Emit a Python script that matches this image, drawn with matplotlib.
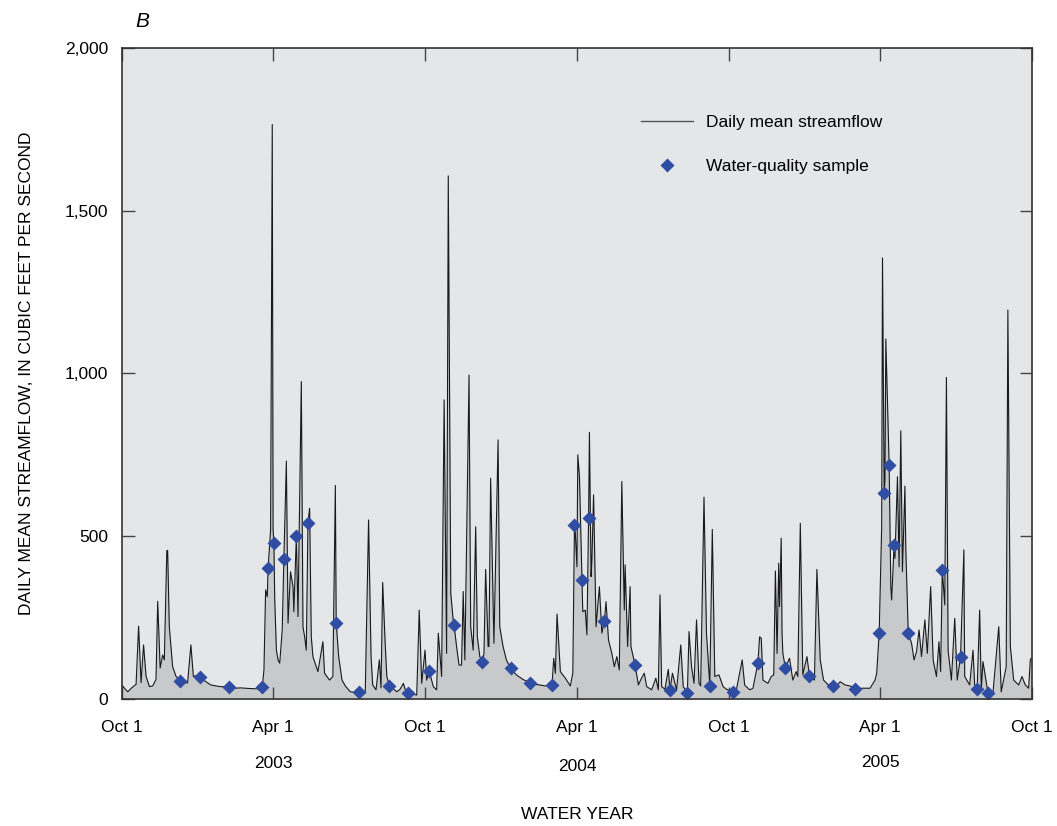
import numpy as np
import matplotlib
matplotlib.use("Agg")
from matplotlib import pyplot as plt
from matplotlib.lines import Line2D
from matplotlib import font_manager

# Condensed font if available
names = {f.name for f in font_manager.fontManager.ttflist}
if "Liberation Sans Narrow" in names:
    plt.rcParams["font.family"] = ["Liberation Sans Narrow", "DejaVu Sans"]
else:
    plt.rcParams["font.family"] = ["Liberation Sans", "DejaVu Sans"]

# Datos: dias desde 1 oct 2002 y caudal medio diario (pies3/s)
flow_days = [
    0, 4, 7, 12, 17, 20, 23, 26, 29, 33,
    37, 41, 43, 46, 49, 51, 54, 55, 57, 61,
    65, 70, 75, 79, 83, 86, 90, 94, 100, 107,
    118, 129, 136, 143, 154, 164, 169, 171, 173, 175,
    176, 179, 181, 182, 183, 184, 186, 188, 190, 193,
    195, 198, 200, 203, 206, 207, 210, 212, 216, 218,
    220, 222, 224, 226, 228, 230, 234, 236, 242, 244,
    250, 254, 257, 258, 261, 265, 269, 275, 281, 285,
    293, 297, 300, 302, 306, 310, 312, 314, 317, 319,
    322, 325, 331, 335, 339, 341, 344, 349, 355, 358,
    361, 365, 367, 370, 375, 379, 381, 385, 388, 391,
    393, 396, 399, 400, 403, 406, 409, 411, 413, 418,
    420, 423, 426, 428, 431, 434, 436, 438, 441, 442,
    444, 448, 453, 455, 459, 463, 468, 475, 483, 491,
    497, 503, 510, 518, 520, 522, 524, 528, 534, 540,
    543, 545, 546, 548, 549, 551, 554, 555, 558, 560,
    562, 563, 565, 566, 568, 571, 575, 578, 581, 583,
    586, 590, 593, 596, 599, 602, 605, 606, 609, 612,
    613, 618, 622, 625, 629, 632, 638, 643, 646, 648,
    650, 654, 658, 660, 663, 668, 673, 676, 681, 683,
    686, 689, 692, 695, 697, 701, 704, 708, 711, 714,
    719, 724, 728, 736, 740, 747, 750, 756, 760, 766,
    768, 770, 772, 778, 782, 785, 787, 789, 791, 792,
    794, 795, 796, 799, 804, 808, 812, 814, 817, 820,
    825, 828, 834, 837, 841, 845, 850, 856, 860, 865,
    871, 877, 883, 893, 901, 907, 909, 912, 915, 916,
    918, 919, 920, 924, 926, 927, 930, 931, 934, 936,
    938, 940, 943, 944, 947, 951, 954, 957, 960, 963,
    967, 970, 974, 977, 981, 984, 986, 988, 991, 993,
    995, 999, 1003, 1006, 1010, 1014, 1015, 1021, 1025, 1027,
    1030, 1033, 1035, 1037, 1043, 1049, 1056, 1059, 1065, 1067,
    1070, 1074, 1080, 1084, 1088, 1092, 1094, 1095,
]
flow_cfs = [
    43, 30, 22, 35, 45, 224, 50, 166, 70, 38,
    40, 60, 300, 95, 135, 120, 456, 456, 222, 99,
    70, 55, 50, 49, 166, 69, 72, 68, 55, 43,
    38, 37, 33, 34, 32, 31, 38, 89, 335, 314,
    402, 519, 1765, 520, 480, 304, 150, 120, 110, 212,
    430, 731, 233, 391, 345, 268, 500, 253, 975, 222,
    191, 150, 542, 586, 191, 130, 100, 84, 176, 79,
    58, 69, 656, 233, 130, 58, 40, 22, 20, 22,
    18, 550, 130, 43, 28, 120, 34, 358, 171, 69,
    40, 35, 22, 30, 48, 30, 17, 15, 12, 273,
    48, 150, 58, 86, 38, 28, 202, 69, 919, 140,
    1607, 325, 240, 227, 161, 104, 104, 330, 120, 995,
    222, 150, 529, 191, 130, 115, 140, 398, 161, 161,
    678, 171, 796, 222, 161, 120, 94, 74, 60, 50,
    45, 43, 40, 43, 125, 79, 261, 84, 64, 40,
    79, 535, 509, 406, 750, 683, 366, 268, 273, 197,
    555, 819, 376, 427, 627, 222, 345, 202, 240, 299,
    181, 140, 99, 130, 89, 668, 273, 412, 161, 345,
    161, 104, 43, 60, 79, 38, 28, 64, 28, 320,
    38, 30, 91, 28, 79, 28, 166, 38, 19, 207,
    99, 48, 243, 48, 40, 620, 202, 40, 521, 69,
    74, 38, 30, 22, 28, 120, 43, 28, 33, 112,
    191, 186, 58, 48, 69, 74, 393, 140, 417, 284,
    494, 202, 140, 96, 125, 58, 84, 69, 540, 74,
    130, 71, 58, 398, 120, 58, 45, 40, 38, 53,
    43, 40, 32, 33, 33, 58, 79, 202, 529, 1355,
    632, 673, 1106, 719, 345, 304, 473, 432, 683, 406,
    824, 391, 654, 468, 204, 171, 120, 145, 212, 130,
    243, 140, 345, 120, 69, 176, 84, 396, 289, 988,
    150, 58, 248, 58, 130, 458, 69, 43, 150, 43,
    30, 273, 28, 115, 19, 17, 222, 22, 99, 1195,
    161, 58, 43, 69, 43, 33, 120, 125,
]

sample_days = [70, 94, 129, 169, 176, 183, 195, 210, 224, 258,
               285, 322, 344, 370, 400, 434, 468, 491, 518, 545,
               554, 562, 581, 618, 660, 681, 708, 736, 766, 799,
               828, 856, 883, 912, 918, 924, 930, 947, 988, 1010,
               1030, 1043]
sample_cfs = [55, 68, 37, 38, 402, 480, 430, 500, 542, 233,
              22, 40, 17, 86, 227, 115, 94, 50, 43, 535,
              366, 555, 240, 104, 28, 19, 40, 22, 112, 96,
              71, 40, 32, 202, 632, 719, 473, 204, 396, 130,
              30, 19]

tick_dates = ["2002-10-01", "2003-04-01", "2003-10-01", "2004-04-01",
              "2004-10-01", "2005-04-01", "2005-10-01"]
tick_labels = ["Oct 1", "Apr 1", "Oct 1", "Apr 1", "Oct 1", "Apr 1", "Oct 1"]
year_dates = ["2003-04-01", "2004-04-01", "2005-04-01"]
year_labels = ["2003", "2004", "2005"]

start = np.datetime64("2002-10-01")
x_flow = start + np.array(flow_days).astype("timedelta64[D]")
x_samp = start + np.array(sample_days).astype("timedelta64[D]")

fig = plt.figure(figsize=(10.57, 8.26), dpi=100)
ax = fig.add_axes([0.1154, 0.1538, 0.8609, 0.7881])
ax.set_facecolor("#e5e6e8")

ax.fill_between(x_flow, flow_cfs, 0, color="#c8c9cb", lw=0)
ax.plot(x_flow, flow_cfs, color="#1a1a1a", lw=0.8)
ax.plot(x_samp, sample_cfs, "D", color="#2f4ea3", ms=7.5, mec="none")

ax.set_xlim(np.datetime64("2002-10-01"), np.datetime64("2005-10-01"))
ax.set_ylim(0, 2000)
ax.set_yticks([0, 500, 1000, 1500, 2000])
ax.set_yticklabels(["0", "500", "1,000", "1,500", "2,000"])
ax.set_xticks(np.array(tick_dates, dtype="datetime64[D]"))
ax.set_xticklabels(tick_labels)

ax.tick_params(direction="in", length=9, width=1.0, color="#444444",
               top=True, right=True, labelsize=12.5)
ax.tick_params(axis="x", pad=15)
ax.tick_params(axis="y", pad=10)
for s in ax.spines.values():
    s.set_color("#333333")
    s.set_linewidth(1.2)

# year labels sit a little unevenly in the original
year_y = [-0.087, -0.092, -0.0855]
for d, lab, yy in zip(year_dates, year_labels, year_y):
    ax.text(np.datetime64(d), yy, lab, transform=ax.get_xaxis_transform(),
            ha="center", va="top", fontsize=12.5)

ax.set_xlabel("WATER YEAR", fontsize=12.5, labelpad=52)
ax.set_ylabel("DAILY MEAN STREAMFLOW, IN CUBIC FEET PER SECOND", fontsize=12.5, labelpad=22)

fig.text(0.128, 0.986, "B", fontsize=15, style="italic", ha="left", va="top")

handles = [Line2D([], [], color="#555555", lw=1.0),
           Line2D([], [], ls="none", marker="D", color="#2f4ea3", ms=7.5, mec="none")]
ax.legend(handles, ["Daily mean streamflow", "Water-quality sample"],
          loc="upper left", bbox_to_anchor=(0.553, 0.921), frameon=False,
          fontsize=12.5, handlelength=3.0, labelspacing=1.65, handletextpad=0.75)

fig.savefig("out.png", dpi=100)
